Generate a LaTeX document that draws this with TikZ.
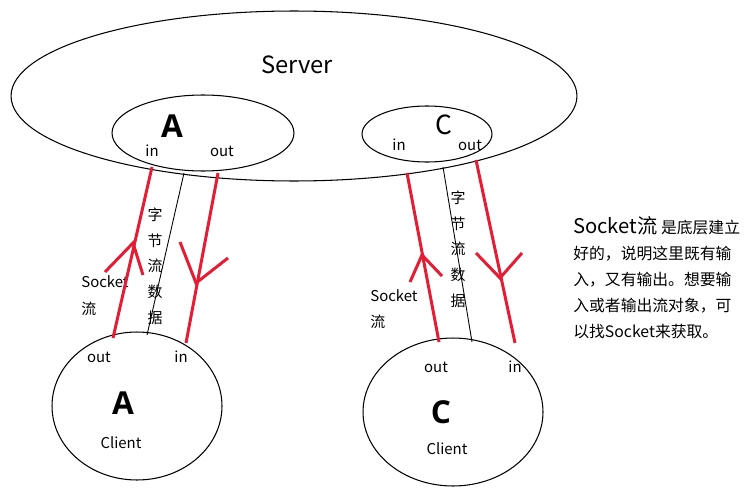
\documentclass[tikz,border=0pt]{standalone}
\usepackage{fontspec}
\setmainfont{Noto Sans CJK SC}
\newfontfamily\boldlat{Open Sans}
\usetikzlibrary{shapes.geometric}
\definecolor{streamred}{RGB}{228,28,52}
\begin{document}
\begin{tikzpicture}
	[x=0.02cm, y=-0.02cm,
	oval/.style={draw, ellipse, inner sep=0pt, line width=0.6pt},
	pipe/.style={draw=streamred, line width=1.7pt},
	thin/.style={draw, line width=0.5pt},
	lbl/.style={font=\fontsize{8.5}{10}\selectfont, inner sep=0pt},
	big/.style={font=\fontsize{18}{20}\selectfont\boldlat\bfseries, inner sep=0pt},
	vtext/.style={font=\fontsize{8.5}{14.6}\selectfont, align=center, inner sep=0pt}]
	\useasboundingbox (0,0) rectangle (749,500);
	% ellipses
	\node[oval, minimum width=11.32cm, minimum height=3.4cm] (server) at (294,96) {};
	\node[oval, minimum width=3.64cm, minimum height=1.52cm] (sa) at (203,133) {};
	\node[oval, minimum width=2.6cm, minimum height=1.12cm] (sc) at (427,134) {};
	\node[oval, minimum width=3.4cm, minimum height=2.96cm] (ca) at (137,406) {};
	\node[oval, minimum width=3.6cm, minimum height=2.96cm] (cc) at (453,412) {};
	% labels
	\node[font=\fontsize{13.5}{15}\selectfont, inner sep=0pt] (title) at (297,65) {Server};
	\node[big] (saname) at (172,126) {A};
	\node[font=\fontsize{15}{17}\selectfont, inner sep=0pt] (scname) at (444,125) {C};
	\node[lbl] (sain) at (152,151) {in};
	\node[lbl] (saout) at (222,151) {out};
	\node[lbl] (scin) at (399,145) {in};
	\node[lbl] (scout) at (470,145) {out};
	\node[lbl] (caout) at (99,357) {out};
	\node[lbl] (cain) at (181,357) {in};
	\node[big] (caname) at (123,403) {A};
	\node[lbl] (caclient) at (121,443) {Client};
	\node[lbl] (ccout) at (436,367) {out};
	\node[lbl] (ccin) at (515,367) {in};
	\node[big] (ccname) at (441,412) {C};
	\node[lbl] (ccclient) at (447,449) {Client};
	\node[lbl, anchor=west] (sockl) at (81,282) {Socket};
	\node[lbl, anchor=west] (sockl2) at (81,309) {流};
	\node[lbl, anchor=west] (sockr) at (370,296) {Socket};
	\node[lbl, anchor=west] (sockr2) at (370,322) {流};
	\node[vtext] (bytesl) at (155,266) {字\\节\\流\\数\\据};
	\node[vtext] (bytesr) at (458,249) {字\\节\\流\\数\\据};
	\node[anchor=north west, align=left, inner sep=0pt,
		font=\fontsize{9}{14.8}\selectfont] (note) at (573,216)
		{{\fontsize{11.5}{14.8}\selectfont Socket流} 是底层建立\\
		好的，说明这里既有输\\
		入，又有输出。想要输\\
		入或者输出流对象，可\\
		以找Socket来获取。};
	% stream ends
	\coordinate (a1) at (152,167);
	\coordinate (a2) at (113,338);
	\coordinate (a3) at (218,173);
	\coordinate (a4) at (186,343);
	\coordinate (a5) at (184,173);
	\coordinate (a6) at (147,335);
	\coordinate (c1) at (407,173);
	\coordinate (c2) at (439,342);
	\coordinate (c3) at (476,160);
	\coordinate (c4) at (515,343);
	\coordinate (c5) at (443,167);
	\coordinate (c6) at (472,342);
	\draw[pipe] (a1) -- (a2);
	\draw[pipe] (a3) -- (a4);
	\draw[thin] (a5) -- (a6);
	\draw[pipe] (c1) -- (c2);
	\draw[pipe] (c3) -- (c4);
	\draw[thin] (c5) -- (c6);
	% arrow strokes
	\draw[pipe] (105,272) -- (133,243) -- (143,275);
	\draw[pipe] (180,242) -- (196,283) -- (228,258);
	\draw[pipe] (410,282) -- (422,255) -- (442,276);
	\draw[pipe] (476,253) -- (500,278) -- (522,253);
\end{tikzpicture}
\end{document}
